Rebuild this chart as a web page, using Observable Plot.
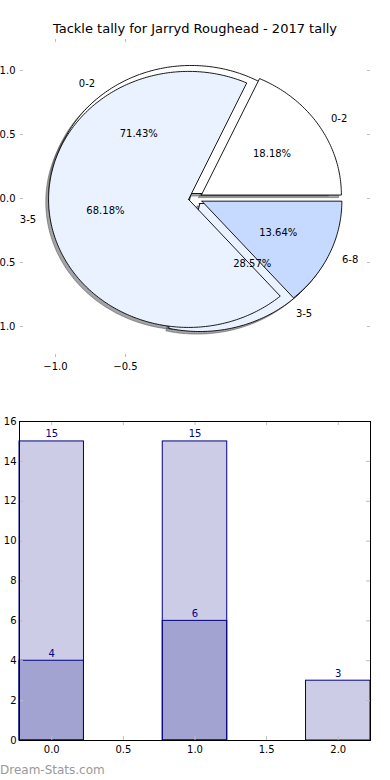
<!DOCTYPE html>
<html><head><meta charset="utf-8">
<script src="https://cdn.jsdelivr.net/npm/d3@7"></script>
<script src="https://cdn.jsdelivr.net/npm/@observablehq/plot@0.6"></script>
<style>
body{margin:0;background:#fff;font-family:"DejaVu Sans",sans-serif;}
#wrap{position:relative;width:390px;height:780px;overflow:hidden;background:#fff;}
#title{position:absolute;left:0;width:390px;top:22px;text-align:center;font-size:13px;line-height:13px;color:#000;}
#pie{position:absolute;left:0;top:0;}
#bar{position:absolute;left:0;top:400px;}
#wm{position:absolute;left:0;top:764px;font-size:12px;line-height:12px;color:#999;}
</style></head><body>
<div id="wrap"><div id="pie"></div><div id="bar"></div><div id="title">Tackle tally for Jarryd Roughead - 2017 tally</div><div id="wm">Dream-Stats.com</div></div>
<script>
// ---- data ----
const pieALabels = ["0-2", "3-5", "6-8"];
const pieAValues = [4, 15, 3];
const pieBLabels = ["0-2", "3-5"];
const pieBValues = [15, 6];
const sliceColors = ["#ffffff", "#ebf2ff", "#c6d9ff"];
const barX = [0, 1, 2];
const barTotals = [15, 15, 3];
const barSubX = [0, 1];
const barSub = [4, 6];
const pieXTicks = [-1, -0.5];
const pieYTicks = [-1, -0.5, 0, 0.5, 1];
const barXTicks = [0, 0.5, 1, 1.5, 2];
const barYTicks = [0, 2, 4, 6, 8, 10, 12, 14, 16];

// ---- pie geometry (matplotlib-style: start at 0, counterclockwise) ----
const EXPLODE = 0.05, R = 1, SHADOW = -0.02, LABELD = 1.1, PCTD = 0.6;
function wedges(values, labels, pieId) {
  const total = d3.sum(values);
  let t = 0;
  return values.map((v, i) => {
    const t1 = t, t2 = t + v / total; t = t2;
    const a1 = t1 * 2 * Math.PI, a2 = t2 * 2 * Math.PI, am = (a1 + a2) / 2;
    const cx = EXPLODE * Math.cos(am), cy = EXPLODE * Math.sin(am);
    const c = d3.rgb(sliceColors[i]);
    return {pie: pieId, i, label: labels[i], pct: (100 * v / total).toFixed(2) + "%",
      a1, a2, am, cx, cy, color: sliceColors[i],
      shadow: d3.rgb(c.r * 0.3, c.g * 0.3, c.b * 0.3).formatHex(),
      lx: cx + LABELD * R * Math.cos(am), ly: cy + LABELD * R * Math.sin(am),
      px: cx + PCTD * R * Math.cos(am), py: cy + PCTD * R * Math.sin(am)};
  });
}
function polygon(w, dx, dy) {
  const n = Math.max(2, Math.ceil((w.a2 - w.a1) / (Math.PI / 180)));
  const pts = [[w.cx + dx, w.cy + dy]];
  for (let k = 0; k <= n; k++) {
    const a = w.a1 + (w.a2 - w.a1) * k / n;
    pts.push([w.cx + dx + R * Math.cos(a), w.cy + dy + R * Math.sin(a)]);
  }
  pts.push([w.cx + dx, w.cy + dy]);
  return pts.map(([x, y]) => ({x, y, key: w.pie + "-" + w.i, color: w.color, shadow: w.shadow}));
}
const wA = wedges(pieAValues, pieALabels, "A");
const wB = wedges(pieBValues, pieBLabels, "B");
const allW = [...wB, ...wA];
const shadowPts = allW.flatMap(w => polygon(w, SHADOW, SHADOW));
const ptsB = wB.flatMap(w => polygon(w, 0, 0));
const ptsA = wA.flatMap(w => polygon(w, 0, 0));

const fmt1 = d3.format(".1f");
const TICK = "#bdbdbd";
const pieW = 390, pieH = 380, pml = 20, pmr = 20, pmt = 39, pmb = 23;
const pfw = pieW - pml - pmr, pfh = pieH - pmt - pmb;

const pie = Plot.plot({
  width: pieW, height: pieH, marginLeft: pml, marginRight: pmr, marginTop: pmt, marginBottom: pmb,
  x: {domain: [-1.25, 1.25]},
  y: {domain: [-1.242, 1.242]},
  style: {fontFamily: "DejaVu Sans", fontSize: "10px", color: "#000", background: "white"},
  marks: [
    Plot.line(shadowPts, {x: "x", y: "y", z: "key", fill: "shadow", fillOpacity: 0.5, stroke: "shadow", strokeOpacity: 0.5, strokeWidth: 1}),
    Plot.line(ptsB, {x: "x", y: "y", z: "key", fill: "color", stroke: "black", strokeWidth: 0.9, strokeLinejoin: "miter"}),
    Plot.line(ptsA, {x: "x", y: "y", z: "key", fill: "color", stroke: "black", strokeWidth: 0.9, strokeLinejoin: "miter"}),
    Plot.text(allW.filter(w => w.lx > 0), {x: "lx", y: "ly", text: "label", textAnchor: "start", fill: "black"}),
    Plot.text(allW.filter(w => w.lx <= 0), {x: "lx", y: "ly", text: "label", textAnchor: "end", fill: "black"}),
    Plot.text(allW, {x: "px", y: "py", text: "pct", textAnchor: "middle", fill: "black"}),
    Plot.tickX(pieXTicks, {x: d => d, stroke: TICK, insetTop: pfh - 3}),
    Plot.tickX(pieXTicks, {x: d => d, stroke: TICK, insetBottom: pfh - 3}),
    Plot.tickY(pieYTicks, {y: d => d, stroke: TICK, insetRight: pfw - 3}),
    Plot.tickY(pieYTicks, {y: d => d, stroke: TICK, insetLeft: pfw - 3}),
    Plot.axisX(pieXTicks, {anchor: "bottom", tickSize: 0, tickPadding: 5, tickFormat: fmt1, label: null}),
    Plot.axisY(pieYTicks, {anchor: "left", tickSize: 0, tickPadding: 5, tickFormat: fmt1, label: null})
  ]
});
document.getElementById("pie").appendChild(pie);

// ---- bars ----
const BW = 0.45;
const totals = barX.map((x, i) => ({x, v: barTotals[i]}));
const subs = barSubX.map((x, i) => ({x, v: barSub[i]}));
const bW = 390, bH = 380, bml = 19, bmr = 20, bmt = 21, bmb = 40;
const bfw = bW - bml - bmr, bfh = bH - bmt - bmb;
const bar = Plot.plot({
  width: bW, height: bH, marginLeft: bml, marginRight: bmr, marginTop: bmt, marginBottom: bmb,
  x: {domain: [-0.225, 2.225]},
  y: {domain: [0, 16]},
  style: {fontFamily: "DejaVu Sans", fontSize: "10px", color: "#000", background: "white"},
  marks: [
    Plot.rect(totals, {x1: d => d.x - BW / 2, x2: d => d.x + BW / 2, y1: d => 0, y2: "v", fill: "#000080", fillOpacity: 0.2, stroke: "#000080", strokeWidth: 1}),
    Plot.rect(subs, {x1: d => d.x - BW / 2, x2: d => d.x + BW / 2, y1: d => 0, y2: "v", fill: "#000080", fillOpacity: 0.2, stroke: "#000080", strokeWidth: 1}),
    Plot.text(totals, {x: "x", y: "v", text: d => String(d.v), lineAnchor: "bottom", dy: -4, fill: "#000080"}),
    Plot.text(subs, {x: "x", y: "v", text: d => String(d.v), lineAnchor: "bottom", dy: -4, fill: "#000080"}),
    Plot.tickX(barXTicks, {x: d => d, stroke: TICK, insetTop: bfh - 4}),
    Plot.tickX(barXTicks, {x: d => d, stroke: TICK, insetBottom: bfh - 4}),
    Plot.tickY(barYTicks, {y: d => d, stroke: TICK, insetRight: bfw - 4}),
    Plot.tickY(barYTicks, {y: d => d, stroke: TICK, insetLeft: bfw - 4}),
    Plot.frame({stroke: "black", strokeWidth: 1}),
    Plot.axisX(barXTicks, {anchor: "bottom", tickSize: 0, tickPadding: 5, tickFormat: fmt1, label: null}),
    Plot.axisY(barYTicks, {anchor: "left", tickSize: 0, tickPadding: 3, tickFormat: d => String(d), label: null})
  ]
});
document.getElementById("bar").appendChild(bar);
</script>
</body></html>
